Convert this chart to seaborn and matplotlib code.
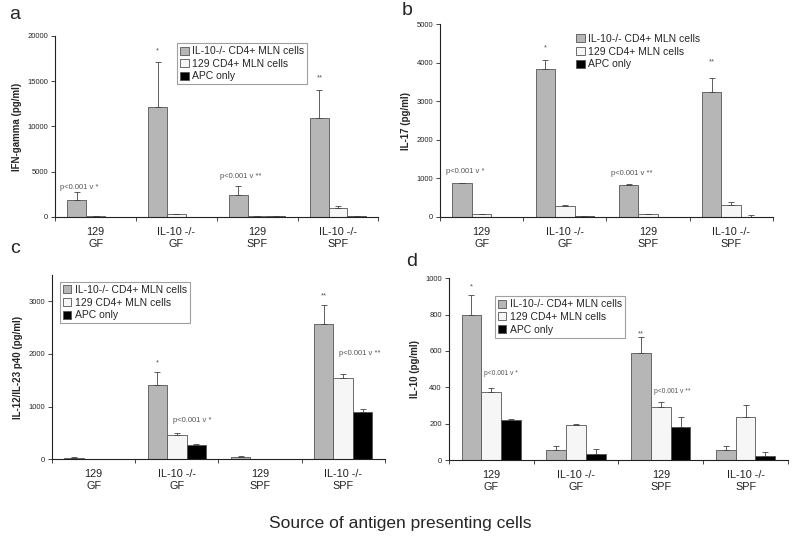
import numpy as np
import pandas as pd
import seaborn as sns
import matplotlib.pyplot as plt
from matplotlib.patches import Patch

sns.set_style("white")
plt.rcParams["font.family"] = ["Liberation Sans", "DejaVu Sans"]

sources = ["129\nGF", "IL-10 -/-\nGF", "129\nSPF", "IL-10 -/-\nSPF"]
cell_types = ["IL-10-/- CD4+ MLN cells", "129 CD4+ MLN cells", "APC only"]
colors = ["#b6b6b6", "#f6f6f6", "#000000"]

# means / top of error bar, per cell type, per source
ifng_mean = [[1900, 12100, 2400, 10950], [80, 300, 50, 950], [30, 30, 50, 50]]
ifng_top = [[2750, 17100, 3400, 14000], [100, 320, 60, 1250], [40, 40, 60, 60]]

il17_mean = [[870, 3840, 840, 3240], [70, 280, 70, 300], [5, 20, 5, 10]]
il17_top = [[890, 4080, 855, 3600], [75, 300, 75, 400], [8, 35, 8, 60]]

il12_mean = [[25, 1400, 40, 2560], [5, 460, 0, 1540], [0, 270, 0, 900]]
il12_top = [[50, 1650, 55, 2920], [8, 500, 0, 1620], [0, 290, 0, 950]]

il10_mean = [[800, 55, 588, 55], [375, 195, 290, 240], [220, 35, 185, 22]]
il10_top = [[910, 78, 675, 80], [395, 198, 320, 302], [225, 60, 240, 45]]

# (x in category units, y centre in data units, text, fontsize)
panels = [
    dict(letter="a", lpos=(0.012, 0.988), ylabel="IFN-gamma (pg/ml)",
         mean=ifng_mean, top=ifng_top, ylim=20000, step=5000,
         rect=[0.069, 0.596, 0.404, 0.337], leg=(0.378, 0.961), frame=True,
         notes=[(-0.2, 3200, "p<0.001 v *", 5.5), (0.77, 18300, "*", 5.5),
                (1.8, 4500, "p<0.001 v **", 5.5), (2.77, 15350, "**", 5.5)]),
    dict(letter="b", lpos=(0.502, 0.996), ylabel="IL-17 (pg/ml)",
         mean=il17_mean, top=il17_top, ylim=5000, step=1000,
         rect=[0.55, 0.596, 0.416, 0.359], leg=(0.40, 0.965), frame=False,
         notes=[(-0.2, 1170, "p<0.001 v *", 5.5), (0.77, 4380, "*", 5.5),
                (1.8, 1115, "p<0.001 v **", 5.5), (2.77, 4015, "**", 5.5)]),
    dict(letter="c", lpos=(0.013, 0.553), ylabel="IL-12/IL-23 p40 (pg/ml)",
         mean=il12_mean, top=il12_top, ylim=3500, step=1000,
         rect=[0.065, 0.145, 0.416, 0.343], leg=(0.024, 0.962), frame=True,
         notes=[(0.77, 1820, "*", 5.5), (1.18, 740, "p<0.001 v *", 5.5),
                (2.77, 3095, "**", 5.5), (3.2, 2010, "p<0.001 v **", 5.5)]),
    dict(letter="d", lpos=(0.508, 0.528), ylabel="IL-10 (pg/ml)",
         mean=il10_mean, top=il10_top, ylim=1000, step=200,
         rect=[0.561, 0.143, 0.424, 0.339], leg=(0.136, 0.901), frame=True,
         notes=[(-0.23, 950, "*", 5.5), (0.12, 478, "p<0.001 v *", 4.8),
                (1.77, 692, "**", 5.5), (2.14, 380, "p<0.001 v **", 4.8)]),
]

bw = 0.7 / 3
fig = plt.figure(figsize=(8, 5.37), dpi=100)

for p in panels:
    ax = fig.add_axes(p["rect"])
    df = pd.DataFrame(
        [(s, c, p["mean"][i][j]) for i, c in enumerate(cell_types)
         for j, s in enumerate(sources)],
        columns=["source", "cells", "value"],
    )
    sns.barplot(data=df, x="source", y="value", hue="cells", order=sources,
                hue_order=cell_types, palette=colors, width=0.7, gap=0,
                errorbar=None, edgecolor="#555555", linewidth=0.6,
                legend=False, ax=ax)

    # one-sided error bars
    for i in range(len(cell_types)):
        for j in range(len(sources)):
            xc = j + (i - 1) * bw
            m, t = p["mean"][i][j], p["top"][i][j]
            if t > m:
                ax.errorbar(xc, m, yerr=[[0], [t - m]], fmt="none",
                            ecolor="#444444", elinewidth=0.6, capsize=2.5,
                            capthick=0.6)

    for x, y, txt, fs in p["notes"]:
        ax.text(x, y, txt, ha="center", va="center", fontsize=fs,
                color="#555555")

    ax.set_ylim(0, p["ylim"])
    ax.set_xlim(-0.5, 3.5)
    ax.set_yticks(np.arange(0, p["ylim"] + 1, p["step"]))
    ax.tick_params(axis="y", labelsize=5.5, length=3, direction="out", left=True,
                   width=0.6, pad=2)
    ax.set_xticks([-0.5, 0.5, 1.5, 2.5, 3.5])
    ax.set_xticklabels([])
    ax.set_xticks(range(4), minor=True)
    ax.set_xticklabels(sources, minor=True, fontsize=7.8, color="#222222",
                       linespacing=1.3)
    ax.tick_params(axis="x", which="major", length=3, direction="out",
                   bottom=True, width=0.6)
    ax.tick_params(axis="x", which="minor", length=0, pad=7)
    ax.set_xlabel("")
    ax.set_ylabel(p["ylabel"], fontsize=7, fontweight="bold", labelpad=4)
    for side in ["top", "right"]:
        ax.spines[side].set_visible(False)
    for side in ["left", "bottom"]:
        ax.spines[side].set_color("#222222")
        ax.spines[side].set_linewidth(0.8)

    handles = [Patch(facecolor=c, edgecolor="#555555", linewidth=0.6)
               for c in colors]
    leg = ax.legend(handles, cell_types, loc="upper left",
                    bbox_to_anchor=p["leg"], fontsize=7.5, frameon=p["frame"],
                    fancybox=False, handlelength=0.8, handleheight=0.8,
                    handletextpad=0.3, labelspacing=0.25, borderpad=0.3,
                    borderaxespad=0)
    if p["frame"]:
        leg.get_frame().set_edgecolor("#888888")
        leg.get_frame().set_linewidth(0.8)

    fig.text(p["lpos"][0], p["lpos"][1], p["letter"], fontsize=14, va="top")

fig.text(0.5, 0.026, "Source of antigen presenting cells", ha="center",
         va="center", fontsize=12.5)

fig.savefig("out.png", dpi=100)
